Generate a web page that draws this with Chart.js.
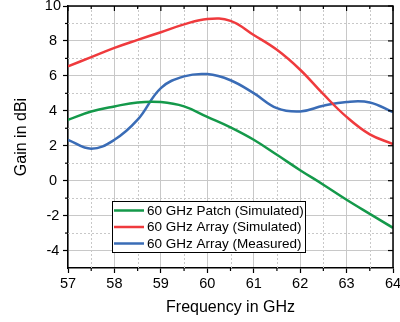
<!DOCTYPE html>
<html lang="en">
<head>
  <meta charset="UTF-8" />
  <title>60 GHz Gain</title>
  <script src="https://cdn.jsdelivr.net/npm/chart.js"></script>
  <style>
    body {
      margin: 0;
      background: #fff;
    }
    #gainChart {
      display: block;
    }
  </style>
</head>
<body>
  <canvas id="gainChart" width="400" height="322"></canvas>

  <script>
    // values, every 0.5 GHz
    const freq = [57, 57.5, 58, 58.5, 59, 59.5, 60, 60.5, 61, 61.5, 62, 62.5, 63, 63.5, 64];
    const patchSim = [3.49, 3.96, 4.25, 4.48, 4.5, 4.25, 3.65, 3.05, 2.34, 1.48, 0.6, -0.23, -1.09, -1.9, -2.7];
    const arraySim = [6.55, 7.07, 7.6, 8.06, 8.5, 8.95, 9.26, 9.15, 8.34, 7.49, 6.35, 4.95, 3.65, 2.65, 2.1];
    const arrayMeas = [2.34, 1.83, 2.34, 3.49, 5.3, 5.97, 6.1, 5.75, 5.01, 4.15, 3.96, 4.29, 4.51, 4.48, 3.92];

    const seriesNames = ['60 GHz Patch (Simulated)', '60 GHz Array (Simulated)', '60 GHz Array (Measured)'];

    const xTicks = [57, 58, 59, 60, 61, 62, 63, 64];
    const yTicks = [-4, -2, 0, 2, 4, 6, 8, 10];
    const xMinor = [57.5, 58.5, 59.5, 60.5, 61.5, 62.5, 63.5];
    const yMinor = [-3, -1, 1, 3, 5, 7, 9];

    Chart.defaults.font.family = "'Liberation Sans', Arial, sans-serif";
    Chart.defaults.color = '#000';

    const toPoints = vals => freq.map((f, i) => ({ x: f, y: vals[i] }));

    // minor dotted grid, mirrored ticks on top/right, frame
    const framePlugin = {
      id: 'frame',
      beforeDatasetsDraw(chart) {
        const { ctx, chartArea: a, scales: { x, y } } = chart;
        ctx.save();
        ctx.strokeStyle = '#c8c8c8';
        ctx.lineWidth = 1;
        ctx.setLineDash([2, 2]);
        xMinor.forEach(v => {
          const px = Math.round(x.getPixelForValue(v)) + 0.5;
          ctx.beginPath();
          ctx.moveTo(px, a.top);
          ctx.lineTo(px, a.bottom);
          ctx.stroke();
        });
        yMinor.forEach(v => {
          const py = Math.round(y.getPixelForValue(v)) + 0.5;
          ctx.beginPath();
          ctx.moveTo(a.left, py);
          ctx.lineTo(a.right, py);
          ctx.stroke();
        });
        ctx.restore();
      },
      afterDraw(chart) {
        const { ctx, chartArea: a, scales: { x, y } } = chart;
        ctx.save();
        ctx.strokeStyle = '#000';
        ctx.lineWidth = 1.5;
        // top and right border
        ctx.beginPath();
        ctx.moveTo(a.left, a.top);
        ctx.lineTo(a.right, a.top);
        ctx.lineTo(a.right, a.bottom);
        ctx.stroke();

        ctx.lineWidth = 1.2;
        const tick = (x1, y1, x2, y2) => {
          ctx.beginPath();
          ctx.moveTo(x1, y1);
          ctx.lineTo(x2, y2);
          ctx.stroke();
        };
        xTicks.forEach(v => {
          const px = x.getPixelForValue(v);
          tick(px, a.top, px, a.top + 5);
        });
        xMinor.forEach(v => {
          const px = x.getPixelForValue(v);
          tick(px, a.top, px, a.top + 3);
          tick(px, a.bottom, px, a.bottom + 3);
        });
        yTicks.forEach(v => {
          const py = y.getPixelForValue(v);
          tick(a.right, py, a.right - 5, py);
        });
        yMinor.forEach(v => {
          const py = y.getPixelForValue(v);
          tick(a.right, py, a.right - 3, py);
          tick(a.left, py, a.left - 3, py);
        });

        // legend box inside plot
        const bx = 112, by = 201, bw = 193, bh = 51;
        ctx.fillStyle = '#fff';
        ctx.fillRect(bx, by, bw, bh);
        ctx.lineWidth = 1;
        ctx.strokeRect(bx + 0.5, by + 0.5, bw, bh);
        ctx.font = "13.5px 'Liberation Sans', Arial, sans-serif";
        ctx.textBaseline = 'middle';
        chart.data.datasets.forEach((ds, i) => {
          const ly = by + 9.5 + i * 16.5;
          ctx.strokeStyle = ds.borderColor;
          ctx.lineWidth = 2.5;
          tick(bx + 2, ly, bx + 32, ly);
          ctx.fillStyle = '#000';
          ctx.fillText(ds.label, bx + 35, ly + 0.5);
        });
        ctx.restore();
      }
    };

    const ctx = document.getElementById('gainChart').getContext('2d');
    const gainChart = new Chart(ctx, {
      type: 'line',
      data: {
        datasets: [
          { label: seriesNames[0], data: toPoints(patchSim), borderColor: '#14994a' },
          { label: seriesNames[1], data: toPoints(arraySim), borderColor: '#ef3a3d' },
          { label: seriesNames[2], data: toPoints(arrayMeas), borderColor: '#3a6cb6' }
        ].map(d => Object.assign(d, {
          borderWidth: 2.5,
          pointRadius: 0,
          fill: false,
          tension: 0.4
        }))
      },
      options: {
        responsive: false,
        animation: false,
        layout: { padding: { top: 6, right: 7, left: 0, bottom: 0 } },
        plugins: {
          legend: { display: false },
          tooltip: { enabled: false }
        },
        scales: {
          x: {
            type: 'linear',
            min: 57,
            max: 64,
            afterBuildTicks: s => { s.ticks = xTicks.map(v => ({ value: v })); },
            afterFit: s => {
              s.height = 54;
              s.paddingLeft = 0;
              s.paddingRight = 0;
            },
            ticks: {
              font: { size: 14.5 },
              padding: 2,
              maxRotation: 0,
              callback: v => String(v)
            },
            grid: { color: '#c8c8c8', lineWidth: 1, tickColor: '#000', tickLength: 5, tickWidth: 1.2 },
            border: { color: '#000', width: 1.5 },
            title: {
              display: true,
              text: 'Frequency in GHz',
              font: { size: 16 },
              padding: { top: 0, bottom: 4.4 }
            }
          },
          y: {
            min: -5,
            max: 10,
            afterBuildTicks: s => { s.ticks = yTicks.map(v => ({ value: v })); },
            afterFit: s => {
              s.width = 68;
              s.paddingTop = 0;
              s.paddingBottom = 0;
            },
            ticks: {
              font: { size: 14.5 },
              padding: 2,
              crossAlign: 'center',
              callback: v => String(v)
            },
            grid: { color: '#c8c8c8', lineWidth: 1, tickColor: '#000', tickLength: 5, tickWidth: 1.2 },
            border: { color: '#000', width: 1.5 },
            title: {
              display: true,
              text: 'Gain in dBi',
              font: { size: 16 },
              padding: { top: 12.4, bottom: 0 }
            }
          }
        }
      },
      plugins: [framePlugin]
    });
  </script>
</body>
</html>
